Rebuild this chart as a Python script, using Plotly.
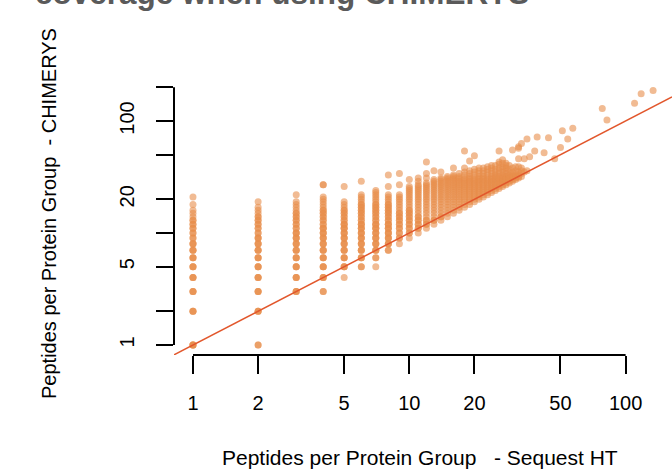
import math
import plotly.graph_objects as go

# ---- data: peptides per protein group (Sequest HT on x, CHIMERYS on y) ----
chim_1 = [1, 1, 1, 1, 2, 2, 2, 3, 3, 3, 4, 4, 4, 5, 5, 5, 6, 6, 6, 7, 7, 7, 8, 8, 8,
          9, 9, 10, 10, 11, 11, 12, 12, 13, 13, 14, 15, 16, 18, 21]
chim_2 = [1, 1, 2, 2, 2, 3, 3, 3, 4, 4, 4, 5, 5, 5, 6, 6, 6, 7, 7, 7, 8, 8, 8, 9, 9, 9,
          10, 10, 11, 11, 12, 12, 13, 13, 14, 14, 15, 16, 17, 19]
chim_3 = [3, 3, 3, 4, 4, 4, 5, 5, 5, 6, 6, 6, 7, 7, 7, 8, 8, 8, 9, 9, 9, 10, 10, 10,
          11, 11, 12, 12, 13, 13, 14, 14, 15, 15, 16, 17, 18, 19, 22]
chim_4 = [3, 3, 4, 4, 4, 5, 5, 5, 6, 6, 6, 7, 7, 7, 8, 8, 8, 9, 9, 9, 10, 10, 10, 11, 11,
          11, 12, 12, 13, 13, 14, 14, 15, 15, 16, 16, 17, 18, 19, 20, 21, 27, 27]
chim_5 = [4, 5, 5, 5, 6, 6, 6, 7, 7, 7, 8, 8, 8, 9, 9, 9, 10, 10, 10, 11, 11, 11, 12, 12,
          12, 13, 13, 14, 14, 15, 15, 16, 16, 17, 18, 19, 26]
chim_6 = [5, 5, 6, 6, 6, 7, 7, 7, 8, 8, 8, 9, 9, 9, 10, 10, 10, 11, 11, 11, 12, 12, 12,
          13, 13, 14, 14, 15, 15, 16, 16, 17, 17, 18, 18, 19, 20, 21, 22, 29]
chim_7 = [5, 6, 6, 7, 7, 7, 8, 8, 8, 9, 9, 9, 10, 10, 10, 11, 11, 11, 12, 12, 12, 13, 13,
          14, 14, 15, 15, 16, 16, 17, 17, 18, 18, 19, 20, 21, 22, 23, 24]
chim_8 = [7, 7, 8, 8, 8, 9, 9, 9, 10, 10, 10, 11, 11, 11, 12, 12, 12, 13, 13, 14, 14, 15,
          15, 16, 16, 17, 17, 18, 18, 19, 20, 21, 22, 26, 33]
chim_9 = [8, 9, 9, 10, 10, 11, 11, 12, 12, 13, 13, 14, 14, 15, 15, 16, 17, 18, 19, 20,
          21, 22, 27, 34]
chim_10 = [9, 10, 10, 11, 11, 12, 12, 13, 13, 14, 14, 15, 15, 16, 16, 17, 18, 19, 20, 21,
           22, 23, 24, 25, 26, 30]
chim_11 = [10, 11, 11, 12, 12, 13, 13, 14, 14, 15, 16, 17, 18, 19, 20, 21, 22, 23, 24, 25,
           26, 27, 29, 31]
chim_12 = [11, 12, 12, 13, 13, 14, 15, 16, 17, 18, 19, 20, 21, 22, 23, 24, 25, 26, 27, 28,
           31, 34, 43]
chim_13 = [12, 13, 13, 14, 15, 16, 17, 18, 19, 20, 21, 22, 23, 24, 25, 26, 27, 28, 29, 30, 36]
chim_14 = [13, 14, 14, 15, 16, 17, 18, 19, 20, 21, 22, 23, 24, 25, 26, 27, 28, 29, 30, 31, 35]
chim_15 = [14, 15, 16, 17, 18, 19, 20, 21, 22, 23, 24, 25, 26, 27, 28, 29, 30, 31, 32]
chim_16 = [15, 16, 17, 18, 19, 20, 21, 22, 23, 24, 25, 26, 27, 28, 29, 30, 31, 32, 33, 38]
chim_17 = [16, 17, 18, 19, 20, 21, 22, 23, 24, 25, 26, 27, 28, 29, 30, 31, 32, 34]
chim_18 = [17, 18, 19, 20, 21, 22, 23, 24, 25, 26, 27, 28, 29, 30, 31, 33, 35, 38, 54]
chim_19 = [18, 19, 20, 21, 22, 23, 24, 25, 26, 27, 28, 29, 30, 31, 32, 34, 36, 44]
chim_20 = [19, 20, 21, 22, 23, 24, 25, 26, 27, 28, 29, 30, 31, 33, 35, 37, 49]
chim_21 = [20, 21, 22, 23, 24, 25, 26, 27, 28, 29, 30, 31, 32, 34, 36, 38]
chim_22 = [21, 22, 23, 24, 25, 26, 27, 28, 29, 30, 31, 32, 34, 36, 38]
chim_23 = [22, 23, 24, 25, 26, 27, 28, 29, 30, 31, 33, 35, 37, 39]
chim_24 = [23, 24, 25, 26, 27, 28, 29, 30, 31, 32, 34, 36, 38, 40]
chim_25 = [24, 25, 26, 27, 28, 29, 30, 31, 32, 33, 35, 37, 40]
chim_26 = [25, 26, 27, 28, 29, 30, 31, 32, 34, 36, 38, 41, 43, 54]
chim_27 = [26, 27, 28, 29, 30, 31, 32, 33, 35, 37, 39, 42, 45]
chim_28 = [27, 28, 29, 30, 31, 32, 34, 36, 38, 40, 42]
chim_29 = [28, 29, 30, 31, 32, 33, 35, 37, 40]
chim_30 = [29, 30, 31, 32, 33, 35, 38, 55]
chim_31 = [30, 31, 32, 34, 36, 39]
chim_32 = [31, 32, 33, 35, 39, 46, 57, 59]
chim_33 = [32, 34, 36, 38, 63]
dense_columns = [chim_1, chim_2, chim_3, chim_4, chim_5, chim_6, chim_7, chim_8, chim_9,
                 chim_10, chim_11, chim_12, chim_13, chim_14, chim_15, chim_16, chim_17,
                 chim_18, chim_19, chim_20, chim_21, chim_22, chim_23, chim_24, chim_25,
                 chim_26, chim_27, chim_28, chim_29, chim_30, chim_31, chim_32, chim_33]

# sparse high-coverage protein groups
sparse_sequest = [34, 34, 35, 35, 36, 38, 39, 42, 44, 47, 50, 51, 54, 57, 78, 82, 110, 118, 134]
sparse_chimerys = [35, 46, 36, 69, 48, 54, 72, 52, 71, 46, 58, 82, 69, 86, 129, 102, 144, 175, 187]

x_ticks = [1, 2, 5, 10, 20, 50, 100]
y_ticks = [1, 2, 5, 10, 20, 50, 100, 200]
y_tick_labels = ["1", "", "5", "", "20", "", "100", ""]

title_text = "coverage when using CHIMERYS"
x_title = "Peptides per Protein Group \u00a0\u00a0- Sequest HT"
y_title = "Peptides per Protein Group \u00a0- CHIMERYS"

# ---- build points ----
xs, ys = [], []
for col_index, col in enumerate(dense_columns):
    for v in col:
        xs.append(col_index + 1)
        ys.append(v)
xs += sparse_sequest
ys += sparse_chimerys

x_range = [-0.0878, 2.2145]
y_range = [-0.0893, 2.366]

FONT = "Liberation Sans, Arial, Helvetica, sans-serif"

fig = go.Figure()
fig.add_trace(go.Scatter(
    x=xs, y=ys, mode="markers",
    marker=dict(size=7, color="rgba(232,141,75,0.6)", line=dict(width=0)),
    hoverinfo="skip", showlegend=False,
))
# identity line y = x across the plot region
line_ends = [10 ** x_range[0], 10 ** x_range[1]]
fig.add_trace(go.Scatter(
    x=line_ends, y=line_ends, mode="lines",
    line=dict(color="#E2572C", width=1.5),
    hoverinfo="skip", showlegend=False,
))

def xpaper(v):
    return (math.log10(v) - x_range[0]) / (x_range[1] - x_range[0])

def ypaper(v):
    return (math.log10(v) - y_range[0]) / (y_range[1] - y_range[0])

shapes = [
    dict(type="line", xref="paper", yref="paper",
         x0=xpaper(x_ticks[0]), x1=xpaper(x_ticks[-1]), y0=0, y1=0,
         line=dict(color="black", width=2)),
    dict(type="line", xref="paper", yref="paper",
         x0=0, x1=0, y0=ypaper(y_ticks[0]), y1=ypaper(y_ticks[-1]),
         line=dict(color="black", width=2)),
]

fig.update_layout(
    width=672, height=469,
    margin=dict(l=174, r=0, t=80, b=114),
    paper_bgcolor="white", plot_bgcolor="white",
    font=dict(family=FONT, color="black"),
    shapes=shapes,
    xaxis=dict(type="log", range=x_range, tickvals=x_ticks,
               ticktext=[str(v) for v in x_ticks],
               ticks="outside", ticklen=18, tickwidth=2, tickcolor="black",
               showgrid=False, zeroline=False, showline=False,
               tickfont=dict(size=20, family=FONT, color="black"),
               ticklabelstandoff=12),
    yaxis=dict(type="log", range=y_range, tickvals=y_ticks, ticktext=y_tick_labels,
               ticks="outside", ticklen=17, tickwidth=2, tickcolor="black",
               showgrid=False, zeroline=False, showline=False, tickangle=-90,
               tickfont=dict(size=20, family=FONT, color="black"),
               ticklabelstandoff=14),
    annotations=[
        dict(text=x_title, xref="paper", yref="paper", x=(420 - 174) / 498,
             y=(355 - 457) / 275, showarrow=False, xanchor="center", yanchor="middle",
             font=dict(size=21, family=FONT, color="black")),
        dict(text=y_title, xref="paper", yref="paper", x=(49 - 174) / 498,
             y=(355 - 214) / 275, showarrow=False, xanchor="center", yanchor="middle",
             textangle=-90, font=dict(size=20, family=FONT, color="black")),
        dict(text="<b>" + title_text + "</b>", xref="paper", yref="paper",
             x=(33 - 174) / 498, y=(355 - 13) / 275, showarrow=False,
             xanchor="left", yanchor="bottom",
             font=dict(size=31.5, family=FONT, color="#5a5a5a")),
    ],
)

fig.write_html("out.html")
